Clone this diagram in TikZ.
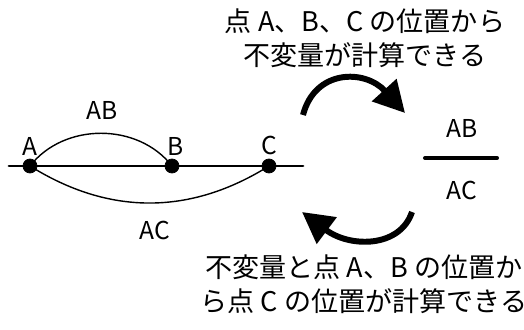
\documentclass[tikz,border=0pt]{standalone}
\usepackage{fontspec}
\setmainfont{Noto Sans CJK JP}
\usetikzlibrary{arrows.meta,calc}
\usepackage{tkz-euclide}

\tikzset{txt/.style={align=center,font=\fontsize{15.4}{19.4}\selectfont,inner sep=0pt},
  lbl/.style={font=\fontsize{14}{16}\selectfont,inner sep=1pt},
  bigarrow/.style={line width=3.4pt,-{Triangle[length=0.62cm,width=0.64cm]}}}

\begin{document}
\begin{tikzpicture}
\useasboundingbox (0,0) rectangle (10.48,6.58);
\tkzSetUpLine[line width=1.7pt,color=black]
\tkzSetUpPoint[fill=black]

\tkzDefPoints{0.18/3.26/L,6.06/3.26/R,0.6/3.26/A,3.44/3.26/B,5.38/3.26/C}

\tkzDrawSegments(L,R)
\draw[line width=.8pt] (A) to[bend left=52] (B);
\draw[line width=.8pt] (A) to[bend right=32] (C);

\tkzDrawPoints[size=8](A,B,C)
\tkzLabelPoint[above=5pt,lbl](A){A}
\tkzLabelPoint[above right=5pt and -4pt,lbl](B){B}
\tkzLabelPoint[above=5pt,lbl](C){C}
\node[lbl] (ab) at (2.04,4.38) {AB};
\node[lbl] (ac) at (3.1,1.98) {AC};

% fraction
\node[lbl] (num) at (9.24,4.02) {AB};
\node[lbl] (den) at (9.24,2.78) {AC};
\tkzDefPoints{8.5/3.42/F1,9.94/3.42/F2}
\tkzDrawSegments[line width=2.3pt](F1,F2)

% arrows
\tkzDefPoints{6.06/4.28/P1,8.1/4.32/P2,8.24/2.34/Q1,6.04/2.34/Q2}
\draw[bigarrow] (P1) .. controls (6.3,5.2) and (7.3,5.2) .. (P2);
\draw[bigarrow] (Q1) .. controls (8.0,1.62) and (7.0,1.62) .. (Q2);

\node[txt] (top) at (7.3,5.82) {点 A、B、C の位置から\\不変量が計算できる};
\node[txt] (bot) at (7.28,0.9) {不変量と点 A、B の位置か\\ら点 C の位置が計算できる};

\end{tikzpicture}
\end{document}
